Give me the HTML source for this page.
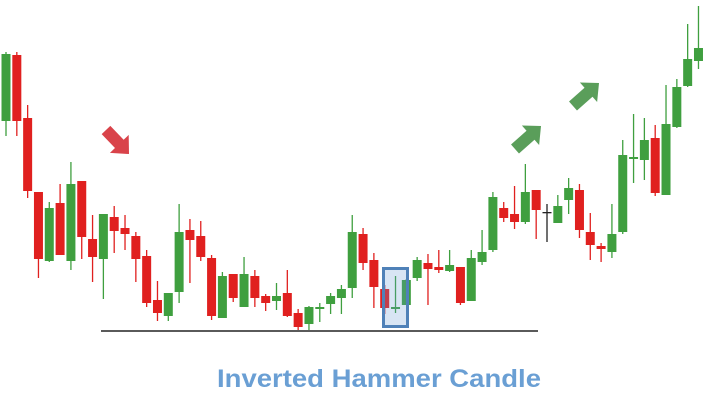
<!DOCTYPE html>
<html><head><meta charset="utf-8"><style>
html,body{margin:0;padding:0;background:#fff;}
svg{display:block;}
</style></head><body>
<svg id="chart" width="711" height="410" viewBox="0 0 711 410" xmlns="http://www.w3.org/2000/svg">
<rect width="711" height="410" fill="#ffffff"/>
<g id="candles"></g>
<line x1="101" y1="331" x2="538" y2="331" stroke="#5a5a5a" stroke-width="2"/>
<rect x="383.5" y="268.5" width="24" height="58" fill="rgba(100,150,210,0.25)" stroke="#4f81b8" stroke-width="3"/>
<g id="arrows"></g>
<text x="379" y="387" text-anchor="middle" font-family="Liberation Sans, sans-serif" font-weight="bold" font-size="25" fill="#6a9fd4" textLength="324" lengthAdjust="spacingAndGlyphs">Inverted Hammer Candle</text>
</svg>
<script>
// price data (arbitrary price units)
const kinds = ['g','r','r','r','g','r','g','r','r','g','r','r','r','r','r','g','g','r','r','r','g','r','g','r','r','g','r','r','g','g','g','g','g','r','r','r','g','g','g','r','r','g','r','g','g','g','r','r','g','r','k','g','g','r','r','r','g','g','g','g','r','g','g','g','g'];
const opens = [289,355,292,218,149,207,149,229,171,151,193,182,174,154,110,94,118,180,174,152,92,136,103,134,114,109,117,97,86,101,106,112,122,176,150,121,101,105,132,147,143,139,143,109,148,160,202,196,188,220,198,187,210,220,178,164,158,178,253,250,272,215,283,324,349];
const closes = [356,289,219,151,202,155,226,173,153,196,179,176,151,107,97,117,178,170,153,94,134,112,136,112,107,114,94,83,103,103,114,121,178,147,123,102,103,130,150,141,140,145,107,152,158,213,192,188,218,200,198,204,222,180,165,161,176,255,253,270,217,286,323,351,362];
const highs = [358,358,305,218,208,226,248,229,195,196,204,195,178,160,129,110,206,191,189,155,138,136,153,140,116,127,140,101,104,107,117,125,195,182,157,125,134,131,153,156,160,160,143,160,180,218,208,224,246,220,206,215,232,226,197,167,206,270,296,292,285,325,331,386,404];
const lows = [274,274,212,132,148,155,140,151,128,111,157,160,128,103,89,89,107,127,149,90,92,108,103,103,99,100,93,79,79,88,96,96,112,140,102,96,97,130,129,105,137,138,105,109,145,158,188,181,186,171,168,187,196,172,150,148,152,176,227,230,214,229,282,323,341];
const xFirst = 6, step = 10.82, bodyW = 9;
const vMin = 0, vMax = 410;
function yScale(v){ return 410 - (v - vMin) * 410 / (vMax - vMin); }
function xScale(i){ return xFirst + i * step; }
const colors = {g:'#3f9f3f', r:'#e0201f', k:'#222222'};
const NS = 'http://www.w3.org/2000/svg';
const cg = document.getElementById('candles');
for (let i = 0; i < opens.length; i++) {
  const x = xScale(i), col = colors[kinds[i]];
  const g = document.createElementNS(NS, 'g');
  
  
  const w = document.createElementNS(NS, 'line');
  w.setAttribute('x1', x); w.setAttribute('x2', x);
  w.setAttribute('y1', yScale(highs[i])); w.setAttribute('y2', yScale(lows[i]));
  w.setAttribute('stroke', col); w.setAttribute('stroke-width', 1.3);
  
  
  g.appendChild(w);
  const top = Math.min(yScale(opens[i]), yScale(closes[i]));
  const h = Math.max(Math.abs(yScale(opens[i]) - yScale(closes[i])), 2);
  const b = document.createElementNS(NS, 'rect');
  const bw = kinds[i] === 'k' ? 9 : bodyW;
  b.setAttribute('x', x - bw / 2); b.setAttribute('y', top);
  b.setAttribute('width', bw); b.setAttribute('height', kinds[i] === 'k' ? 1.3 : h);
  b.setAttribute('fill', col);
  
  
  g.appendChild(b);
  cg.appendChild(g);
}
// arrows
const ag = document.getElementById('arrows');
function arrow(x1, y1, x2, y2, col, name) {
  const L = Math.hypot(x2 - x1, y2 - y1), ang = Math.atan2(y2 - y1, x2 - x1) * 180 / Math.PI;
  const hl = 14, sw = 6, hw = 13;
  const p = document.createElementNS(NS, 'polygon');
  p.setAttribute('points', `0,${-sw} ${L-hl},${-sw} ${L-hl},${-hw} ${L},0 ${L-hl},${hw} ${L-hl},${sw} 0,${sw}`);
  p.setAttribute('transform', `translate(${x1},${y1}) rotate(${ang})`);
  p.setAttribute('fill', col);
  
  
  ag.appendChild(p);
}
arrow(106, 130, 129, 154, '#d9434a', 'downtrend-arrow');
arrow(515, 149, 541, 126, '#5a9e5a', 'uptrend-arrow-1');
arrow(573, 106, 599, 83, '#5a9e5a', 'uptrend-arrow-2');
</script>
</body></html>
